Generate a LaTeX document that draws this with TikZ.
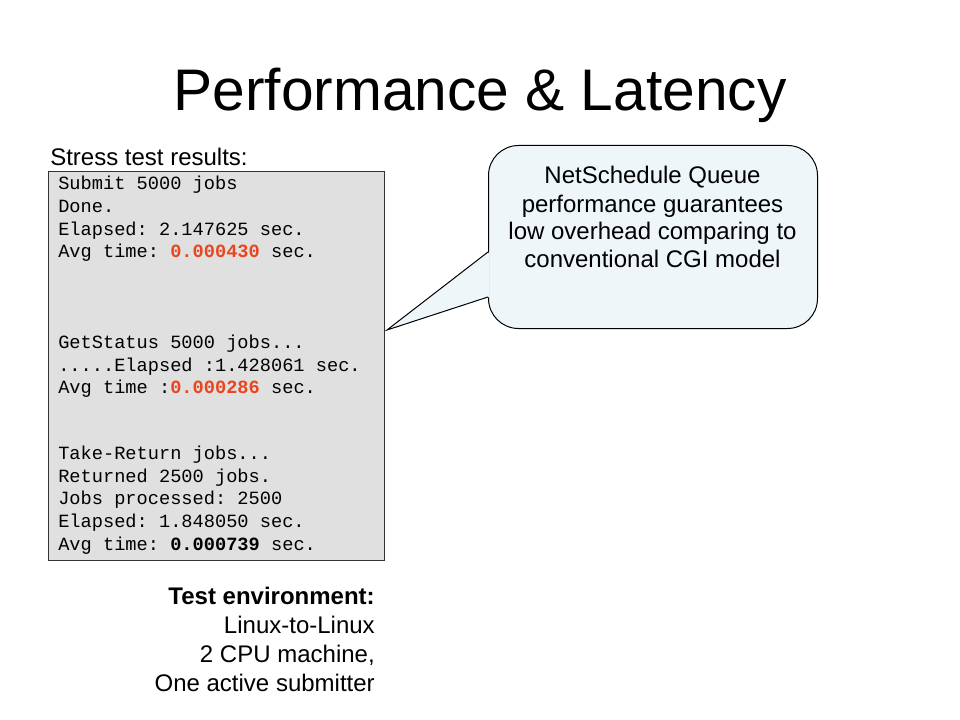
\documentclass[tikz,border=0pt]{standalone}
\usepackage{fontspec}
\usetikzlibrary{calc}
\setmainfont{Liberation Sans}
\newfontfamily\monofam{Liberation Mono}
\definecolor{hotred}{RGB}{232,70,30}
\definecolor{boxgrey}{RGB}{224,224,224}
\definecolor{calloutfill}{RGB}{238,246,250}
\frenchspacing
\begin{document}
\begin{tikzpicture}[x=0.75pt,y=-0.75pt,
  codeline/.style={anchor=base west,inner sep=0pt,font=\monofam\fontsize{14}{17}\selectfont\frenchspacing},
  sanstext/.style={inner sep=0pt,font=\fontsize{18}{21}\selectfont}]
\useasboundingbox[fill=white] (0,0) rectangle (960,720);
% title
\node[anchor=base,inner sep=0pt,font=\fontsize{44}{50}\selectfont] (title) at (480,111) {Performance \& Latency};
% heading
\node[sanstext,anchor=base west] (stress) at (50,166) {Stress test results:};
% grey box
\node[draw=black!80,fill=boxgrey,line width=0.75pt,inner sep=0pt,minimum width=252pt,minimum height=291.75pt,anchor=north west] (box) at (48,171) {};
% code lines
\node[codeline] (c1) at (58,190) {Submit 5000 jobs};
\node[codeline] (c2) at (58,213) {Done.};
\node[codeline] (c3) at (58,236) {Elapsed: 2.147625 sec.};
\node[codeline] (c4) at (58,258) {Avg time: \textcolor{hotred}{\bfseries 0.000430} sec.};
\node[codeline] (c5) at (58,348) {GetStatus 5000 jobs...};
\node[codeline] (c6) at (58,371) {.....Elapsed :1.428061 sec.};
\node[codeline] (c7) at (58,393) {Avg time :\textcolor{hotred}{\bfseries 0.000286} sec.};
\node[codeline] (c8) at (58,459) {Take-Return jobs...};
\node[codeline] (c9) at (58,482) {Returned 2500 jobs.};
\node[codeline] (c10) at (58,504) {Jobs processed: 2500};
\node[codeline] (c11) at (58,527) {Elapsed: 1.848050 sec.};
\node[codeline] (c12) at (58,550) {Avg time: {\bfseries 0.000739} sec.};
% callout
\node[draw=black,fill=calloutfill,line width=0.75pt,rounded corners=22.5pt,minimum width=246.75pt,minimum height=137.25pt,anchor=north west,inner sep=0pt] (callout) at (488,145) {};
\coordinate (tip) at (387,330);
\coordinate (ta) at (488,252);
\coordinate (tb) at (488,297);
\fill[calloutfill] ($(ta)+(1.5,0)$) -- (tip) -- ($(tb)+(1.5,0)$) -- cycle;
\draw[line width=0.75pt,line join=miter] (ta) -- (tip) -- (tb);
\node[sanstext,anchor=base,align=center,font=\fontsize{18}{21}\selectfont] (ctext) at (652.5,268) {NetSchedule Queue\\performance guarantees\\low overhead comparing to\\conventional CGI model};
% environment
\node[sanstext,anchor=base east,align=right,font=\fontsize{18}{21.6}\selectfont] (env) at (375,691) {\textbf{Test environment:}\\Linux-to-Linux\\2 CPU machine,\\One active submitter};
\end{tikzpicture}
\end{document}
